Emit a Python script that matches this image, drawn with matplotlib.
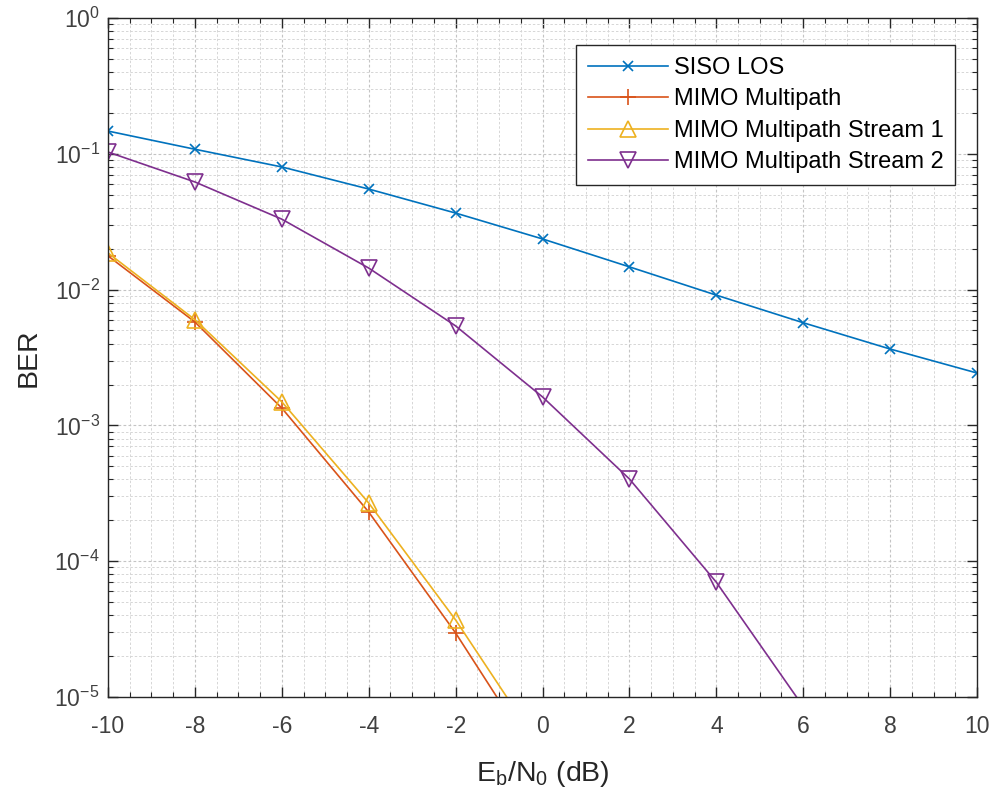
import numpy as np
import matplotlib.pyplot as plt
from matplotlib.ticker import LogLocator, MultipleLocator, NullFormatter, FixedLocator, FuncFormatter

plt.rcParams['font.family'] = ['Liberation Sans', 'DejaVu Sans']
plt.rcParams['mathtext.fontset'] = 'custom'
plt.rcParams['mathtext.rm'] = 'Liberation Sans'
plt.rcParams['mathtext.it'] = 'Liberation Sans'
plt.rcParams['axes.unicode_minus'] = False

# -- data --
ebno = [-10, -8, -6, -4, -2, 0, 2, 4, 6, 8, 10]
ber_siso = [0.147, 0.108, 0.080, 0.055, 0.0366, 0.0236, 0.0147, 0.0091, 0.0057, 0.00365, 0.00243]
ber_mimo = [0.0177, 0.00577, 0.00134, 2.3e-4, 2.96e-5, 3e-6, 2e-7, 1e-8, 1e-9, 1e-10, 1e-11]
ber_s1 = [0.0186, 0.0060, 0.00149, 2.68e-4, 3.69e-5, 4e-6, 3e-7, 1e-8, 1e-9, 1e-10, 1e-11]
ber_s2 = [0.103, 0.062, 0.033, 0.0144, 0.0054, 0.00162, 4.03e-4, 7.0e-5, 8.5e-6, 5e-7, 2e-8]

c_blue = "#0072BD"
c_orange = "#D95319"
c_yellow = "#EDB120"
c_purple = "#7E2F8E"
txt = "#262626"

fig = plt.figure(figsize=(9.93, 7.96), dpi=100)
ax = fig.add_axes([0.1088, 0.1244, 0.8751, 0.853])

ax.semilogy(ebno, ber_siso, color=c_blue, marker="x", ms=7, mew=1.2, lw=1.2, label="SISO LOS")
ax.semilogy(ebno, ber_mimo, color=c_orange, marker="+", ms=12, mew=1.2, lw=1.2, label="MIMO Multipath")
ax.semilogy(ebno, ber_s1, color=c_yellow, marker="^", ms=11, mew=1.2, mfc="none", lw=1.2,
            label="MIMO Multipath Stream 1")
ax.semilogy(ebno, ber_s2, color=c_purple, marker="v", ms=11, mew=1.2, mfc="none", lw=1.2,
            label="MIMO Multipath Stream 2")

ax.set_xlim(-10, 10)
ax.set_ylim(1e-5, 1)
ax.set_xticks(range(-10, 11, 2))
ax.xaxis.set_minor_locator(MultipleLocator(0.5))
ax.yaxis.set_major_locator(FixedLocator([1e-5, 1e-4, 1e-3, 1e-2, 1e-1, 1]))
ax.yaxis.set_major_formatter(FuncFormatter(lambda v, p: r"$\mathregular{10^{%d}}$" % round(np.log10(v))))
ax.yaxis.set_minor_locator(LogLocator(base=10, subs=np.arange(2, 10), numticks=20))
ax.yaxis.set_minor_formatter(NullFormatter())

ax.grid(True, which="major", linestyle=(0, (2.5, 2)), color="#c4c4c4", lw=0.8)
ax.grid(True, which="minor", linestyle=(0, (2.5, 2)), color="#d6d6d6", lw=0.7)
ax.set_axisbelow(True)

ax.tick_params(which="both", direction="in", top=True, right=True, colors=txt,
               labelsize=16.5, labelcolor="#404040")
ax.tick_params(which="major", length=7, width=1.0)
ax.tick_params(which="minor", length=3.5, width=0.8)
ax.tick_params(axis="x", pad=13)
ax.tick_params(axis="y", pad=6)
for s in ax.spines.values():
    s.set_color(txt)
    s.set_linewidth(1.0)

ax.set_xlabel(r"E$_\mathregular{b}$/N$_\mathregular{0}$ (dB)", fontsize=20.5, color=txt, labelpad=15)
ax.set_ylabel("BER", fontsize=20.5, color=txt, labelpad=9)

leg = ax.legend(loc="upper right", bbox_to_anchor=(0.975, 0.960), fontsize=17,
                fancybox=False, edgecolor=txt, framealpha=1, handlelength=3.4,
                handletextpad=0.25, borderpad=0.5, labelspacing=0.4, borderaxespad=0)
leg.get_frame().set_linewidth(1.0)

fig.savefig("out.png", dpi=100)
